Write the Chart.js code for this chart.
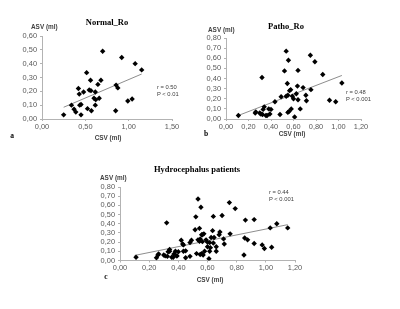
<!DOCTYPE html>
<html>
<head>
<meta charset="utf-8">
<script src="https://cdn.jsdelivr.net/npm/chart.js@4.4.1/dist/chart.umd.min.js"></script>
<style>
  html, body { margin: 0; padding: 0; background: #ffffff; }
  #wrap { position: relative; width: 400px; height: 309px; overflow: hidden; background: #fff; }
  canvas { position: absolute; left: 0; top: 0; }
  .t { position: absolute; white-space: nowrap; line-height: 1; }
  .title { font-family: "Liberation Serif", "DejaVu Serif", serif; font-weight: bold; font-size: 8.5px; color: #000; transform: translate(-50%, -50%); }
  .axt { font-family: "Liberation Sans", Arial, sans-serif; font-weight: bold; font-size: 6.4px; color: #404040; }
  .axl { transform: translate(0, -50%); }
  .axc { transform: translate(-50%, -50%); }
  .ann { font-family: "Liberation Sans", Arial, sans-serif; font-size: 5.8px; color: #404040; transform: translate(0, -50%); }
  .let { font-family: "Liberation Serif", serif; font-weight: bold; font-size: 7.5px; color: #000; transform: translate(-50%, -50%); }
</style>
</head>
<body>
<div id="wrap">
  <canvas id="ca" width="400" height="309"></canvas>
  <canvas id="cb" width="400" height="309"></canvas>
  <canvas id="cc" width="400" height="309"></canvas>
</div>
<script>
// ---- Data ----
// Panel a: Normal_Ro
const normalCsv = [0.25,0.34,0.37,0.39,0.42,0.43,0.435,0.45,0.45,0.48,0.515,0.525,0.545,0.56,0.565,0.57,0.60,0.615,0.62,0.615,0.645,0.66,0.68,0.70,0.85,0.855,0.875,0.92,0.99,1.04,1.075,1.15];
const normalAsv = [0.03,0.10,0.07,0.05,0.22,0.18,0.10,0.105,0.03,0.195,0.335,0.075,0.21,0.28,0.205,0.06,0.15,0.195,0.14,0.10,0.25,0.15,0.28,0.49,0.06,0.245,0.225,0.445,0.13,0.145,0.40,0.355];
const normalTrendCsv = [0.25, 1.15];
const normalTrendAsv = [0.085, 0.325];

// Panel b: Patho_Ro
const pathoCsv = [0.11,0.26,0.265,0.30,0.31,0.325,0.33,0.34,0.355,0.365,0.32,0.38,0.40,0.39,0.435,0.48,0.49,0.52,0.535,0.535,0.545,0.555,0.55,0.565,0.575,0.55,0.56,0.58,0.59,0.60,0.61,0.625,0.635,0.64,0.64,0.66,0.685,0.71,0.715,0.75,0.755,0.79,0.86,0.92,0.975,1.03];
const pathoAsv = [0.035,0.06,0.07,0.06,0.05,0.045,0.095,0.12,0.035,0.035,0.41,0.10,0.095,0.05,0.17,0.045,0.22,0.475,0.67,0.225,0.35,0.58,0.235,0.28,0.29,0.065,0.075,0.10,0.225,0.20,0.02,0.25,0.325,0.48,0.19,0.10,0.31,0.235,0.18,0.63,0.29,0.565,0.44,0.185,0.17,0.355];
const pathoTrendCsv = [0.11, 1.03];
const pathoTrendAsv = [0.035, 0.43];

// Panel c: Hydrocephalus patients (all patients of a and b together)
const hydroCsv = normalCsv.concat(pathoCsv);
const hydroAsv = normalAsv.concat(pathoAsv);
const hydroTrendCsv = [0.10, 1.15];
const hydroTrendAsv = [0.055, 0.39];

// Tick settings
const xTicksA = { min: 0, max: 1.5, step: 0.5 };
const xTicksB = { min: 0, max: 1.2, step: 0.2 };
const yTicksA = { min: 0, max: 0.6, step: 0.1 };
const yTicksB = { min: 0, max: 0.8, step: 0.1 };

function pts(xs, ys) { return xs.map((x, i) => ({ x: x, y: ys[i] })); }
const fmt = v => Number(v).toFixed(2).replace('.', ',');

const tickFont = { family: "'Liberation Sans', Arial, sans-serif", size: 7.4 };
const axisColor = '#b3b3b3';

function makeChart(id, xs, ys, tx, ty, xt, yt, pad) {
  return new Chart(document.getElementById(id), {
    type: 'scatter',
    data: {
      datasets: [
        {
          data: pts(xs, ys),
          pointStyle: 'rectRot',
          pointRadius: 2.7,
          backgroundColor: '#000',
          borderColor: '#000',
          borderWidth: 0,
          order: 1
        },
        {
          type: 'line',
          data: pts(tx, ty),
          showLine: true,
          borderColor: '#808080',
          borderWidth: 0.9,
          pointRadius: 0,
          fill: false,
          order: 2
        }
      ]
    },
    options: {
      responsive: false,
      animation: false,
      devicePixelRatio: 1,
      layout: { padding: pad },
      plugins: { legend: { display: false }, tooltip: { enabled: false }, title: { display: false } },
      scales: {
        x: {
          type: 'linear',
          min: xt.min, max: xt.max,
          afterFit: s => { s.height = 12; },
          ticks: { stepSize: xt.step, callback: fmt, color: '#595959', font: tickFont, padding: 1.5, maxRotation: 0, autoSkip: false },
          grid: { drawOnChartArea: false, drawTicks: true, tickLength: 2, color: axisColor },
          border: { display: true, color: axisColor, width: 1 }
        },
        y: {
          type: 'linear',
          min: yt.min, max: yt.max,
          afterFit: s => { s.width = 30; },
          ticks: { stepSize: yt.step, callback: fmt, color: '#595959', font: tickFont, padding: 3, autoSkip: false },
          grid: { drawOnChartArea: false, drawTicks: true, tickLength: 2, color: axisColor },
          border: { display: true, color: axisColor, width: 1 }
        }
      }
    }
  });
}

// chart areas: a: L42 R172 T36 B119 ; b: L226 R361 T38 B119 ; c: L120 R295 T187 B260.5
makeChart('ca', normalCsv, normalAsv, normalTrendCsv, normalTrendAsv, xTicksA, yTicksA,
  { left: 12, right: 228, top: 36, bottom: 178 });
makeChart('cb', pathoCsv, pathoAsv, pathoTrendCsv, pathoTrendAsv, xTicksB, yTicksB,
  { left: 196, right: 39, top: 38, bottom: 178 });
makeChart('cc', hydroCsv, hydroAsv, hydroTrendCsv, hydroTrendAsv, xTicksB, yTicksB,
  { left: 90, right: 105, top: 187, bottom: 36.5 });

// ---- Text labels ----
const labels = [
  ['title', 'Normal_Ro', 107, 22],
  ['axt axl', 'ASV (ml)', 31, 27],
  ['axt axc', 'CSV (ml)', 108, 138],
  ['let', 'a', 12, 136],
  ['ann', 'r = 0.50', 157, 87.5],
  ['ann', 'P < 0.01', 157, 95],

  ['title', 'Patho_Ro', 286, 26],
  ['axt axl', 'ASV (ml)', 208, 29.5],
  ['axt axc', 'CSV (ml)', 292, 134],
  ['let', 'b', 206, 134],
  ['ann', 'r = 0.48', 346, 93],
  ['ann', 'P < 0.001', 346, 100],

  ['title', 'Hydrocephalus patients', 197, 169],
  ['axt axl', 'ASV (ml)', 100, 178],
  ['axt axc', 'CSV (ml)', 210, 279.5],
  ['let', 'c', 106, 277],
  ['ann', 'r = 0.44', 269, 193],
  ['ann', 'P < 0.001', 269, 200]
];
const wrap = document.getElementById('wrap');
labels.forEach(([cls, txt, x, y]) => {
  const d = document.createElement('div');
  d.className = 't ' + cls;
  d.textContent = txt;
  d.style.left = x + 'px';
  d.style.top = y + 'px';
  wrap.appendChild(d);
});
</script>
</body>
</html>
